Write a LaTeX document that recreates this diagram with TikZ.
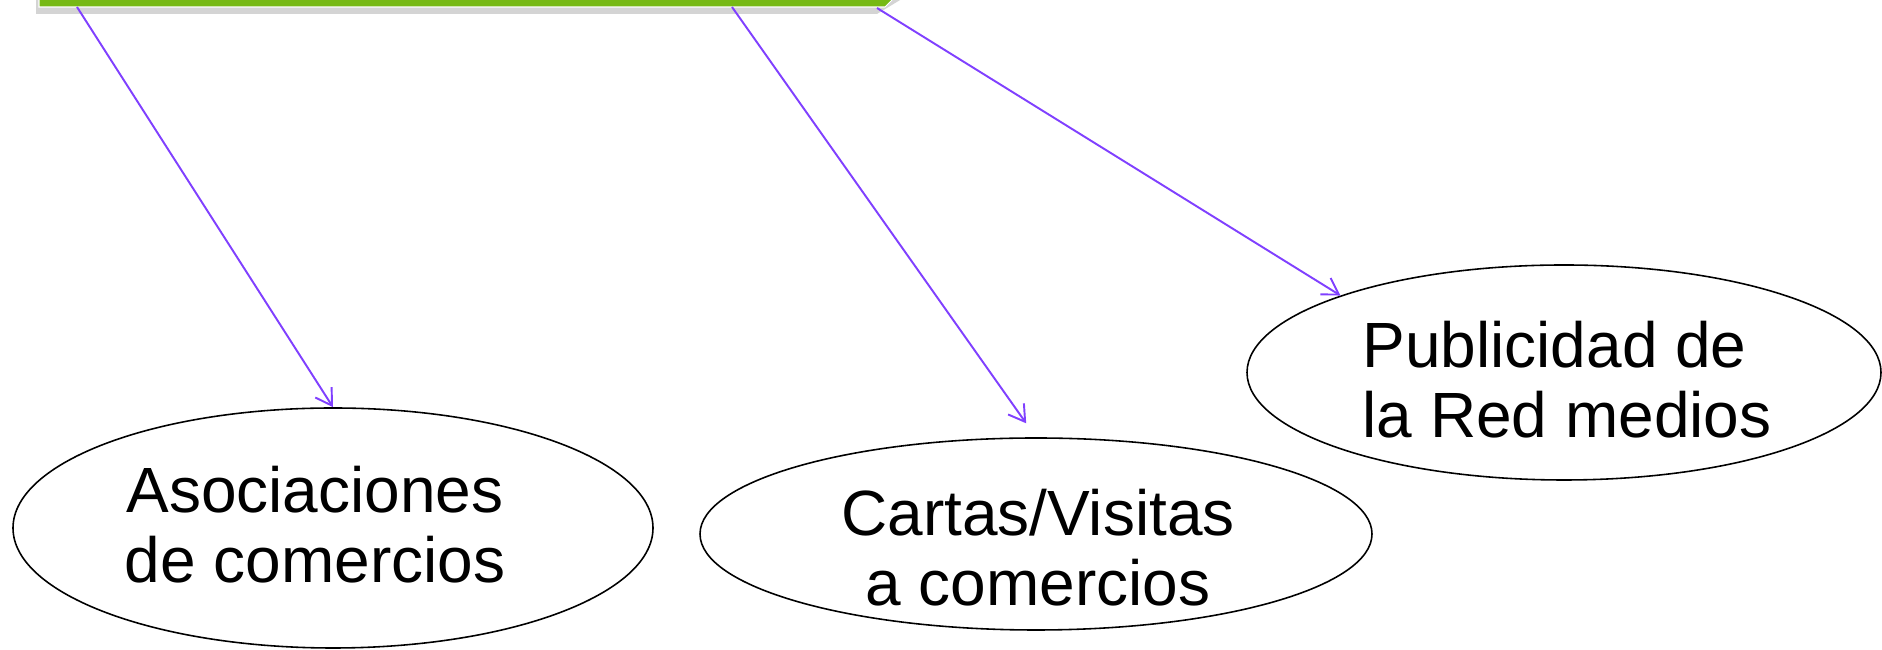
\documentclass[tikz,border=0pt]{standalone}
\usepackage{fontspec}
\setmainfont{Liberation Sans}
\usepackage{tikz}
\usetikzlibrary{arrows.meta,shapes.geometric}
\definecolor{barGreen}{RGB}{118,185,20}
\definecolor{barShadow}{RGB}{212,212,212}
\definecolor{linkPurple}{RGB}{128,64,255}

\begin{document}
\begin{tikzpicture}[
	oval/.style={ellipse, draw=black, line width=0.9pt, inner sep=0pt},
	caption/.style={font=\fontsize{36.4}{39.8}\selectfont, inner sep=0pt},
	link/.style={draw=linkPurple, line width=1.1pt, -{Straight Barb[length=9pt,width=11pt]}}
]
			%%%%% START %%%%%
			
			\useasboundingbox (0, 0) rectangle (37.64, 13);
			\clip (0, 0) rectangle (37.64, 13);
			
			% bar at the top, cut by the page edge
			\fill[barShadow] (0.72, 13.5) -- (0.72, 12.72) -- (17.54, 12.72) -- (18.30, 13.18) -- (18.30, 13.5) -- cycle;
			\draw[fill=barGreen, draw=white, line width=0.6pt] (0.78, 13.5) -- (0.78, 12.86) -- (17.70, 12.86) -- (18.34, 13.5) -- cycle;
			
			\coordinate (s1) at (1.54, 12.86);
			\coordinate (s2) at (14.64, 12.86);
			\coordinate (s3) at (17.54, 12.84);
			
			\node[oval, minimum width=12.8cm, minimum height=4.8cm] (asoc) at (6.66, 2.44) {};
			\node[oval, minimum width=13.44cm, minimum height=3.84cm] (cartas) at (20.72, 2.32) {};
			\node[oval, minimum width=12.68cm, minimum height=4.3cm] (publi) at (31.28, 5.55) {};
			
			\node[caption, align=center] (asoctext) at (6.30, 2.50) {Asociaciones\\de comercios};
			\node[caption, align=center] (cartastext) at (20.76, 2.04) {Cartas/Visitas\\a comercios};
			\node[caption, align=left] (publitext) at (31.34, 5.40) {Publicidad de\\la Red medios};
			
			\draw[link] (s1) -- (asoc.north);
			\draw[link, shorten >=0.34cm] (s2) -- (cartas.north);
			\draw[link] (s3) -- (publi.161);
			
			%%%%% END %%%%%
		\end{tikzpicture}
\end{document}
